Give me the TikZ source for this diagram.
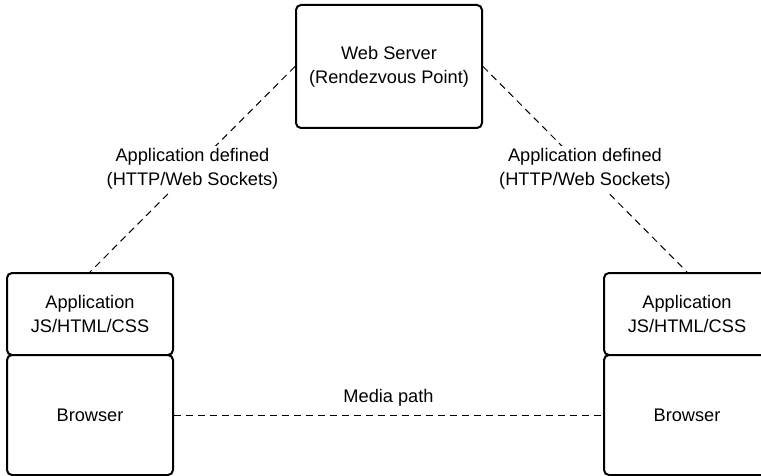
\documentclass[tikz,border=0pt]{standalone}
\usepackage{fontspec}
\setmainfont{Liberation Sans}
\begin{document}
\begin{tikzpicture}[x=1pt,y=-1pt,
  every node/.style={font=\fontsize{18.2}{24}\selectfont, align=center, inner sep=0pt},
  box/.style={draw=black, line width=2pt, rounded corners=5pt, fill=white},
  link/.style={draw=black, line width=1pt, dash pattern=on 7pt off 5pt},
  tag/.style={fill=white, inner xsep=2pt, inner ysep=3pt}]
  \useasboundingbox (0,0) rectangle (761,476);
  \clip (0,0) rectangle (761,476);

  % rendezvous server
  \node[box, minimum width=186pt, minimum height=123pt] (server) at (389,66.5)
    {Web Server\\(Rendezvous Point)};

  % left peer: application on top of browser
  \node[box, minimum width=166pt, minimum height=82pt] (appL) at (90,314)
    {Application\\JS/HTML/CSS};
  \node[box, minimum width=166pt, minimum height=120pt] (brL) at (90,415)
    {Browser};

  % right peer
  \node[box, minimum width=166pt, minimum height=82pt] (appR) at (687,314)
    {Application\\JS/HTML/CSS};
  \node[box, minimum width=166pt, minimum height=120pt] (brR) at (687,415)
    {Browser};

  % signalling links
  \draw[link] (server.west) -- (appL.north)
    node[tag, pos=0.5] {Application defined\\(HTTP/Web Sockets)};
  \draw[link] (server.east) -- (appR.north)
    node[tag, pos=0.5] {Application defined\\(HTTP/Web Sockets)};

  % media path between browsers
  \draw[link] (brL.east) -- (brR.west)
    node[pos=0.5, above=8pt] {Media path};
\end{tikzpicture}
\end{document}
